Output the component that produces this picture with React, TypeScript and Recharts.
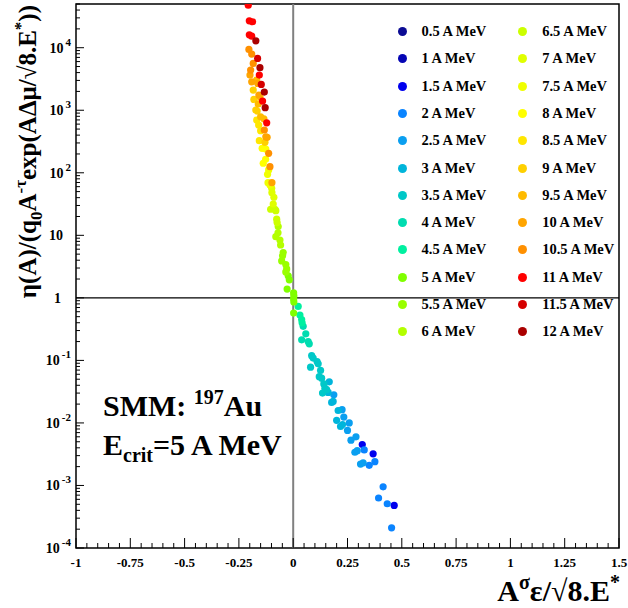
import React from 'react';
import { ScatterChart, Scatter, XAxis, YAxis, ReferenceLine, ReferenceArea } from 'recharts';

const FONT = '"Liberation Serif", "Times New Roman", serif';

// plot frame in page pixels
const LEFT = 76;
const RIGHT = 619;
const TOP = 4;
const BOTTOM = 548;

const energies = ['0.5', '1', '1.5', '2', '2.5', '3', '3.5', '4', '4.5', '5', '5.5', '6',
  '6.5', '7', '7.5', '8', '8.5', '9', '9.5', '10', '10.5', '11', '11.5', '12'];

const colors = ['#0c0c94', '#0505b4', '#0000ee', '#0a84ff', '#0a9ff0', '#00b5db', '#00c8c8', '#00dcb0',
  '#00f0a0', '#80ff00', '#99ff00', '#b3ff00', '#ccff00', '#e0ff00', '#f0ff00', '#ffff00',
  '#ffe600', '#ffd000', '#ffbb00', '#ffa500', '#ff9000', '#ff0000', '#d50000', '#aa0000'];

// [x, y] per excitation energy
const e0_5: number[][] = [];
const e1_0: number[][] = [];
const e1_5 = [[0.318, 0.0045], [0.368, 0.0032], [0.465, 0.00048]];
const e2_0 = [[0.327, 0.0037], [0.35, 0.0021], [0.376, 0.0024], [0.414, 0.00095], [0.393, 0.00063],
  [0.433, 0.00051], [0.453, 0.00021]];
const e2_5 = [[0.187, 0.0282], [0.225, 0.0163], [0.233, 0.0124], [0.258, 0.01], [0.25, 0.0076],
  [0.266, 0.0053], [0.289, 0.006], [0.284, 0.0034], [0.295, 0.0036], [0.31, 0.0022], [0.322, 0.0023]];
const e3_0 = [[0.166, 0.0455], [0.161, 0.0307], [0.177, 0.0213], [0.184, 0.0221], [0.207, 0.0158],
  [0.2, 0.011], [0.218, 0.0088], [0.227, 0.0094]];
const e3_5 = [[0.085, 0.119], [0.092, 0.109], [0.11, 0.096], [0.115, 0.088], [0.08, 0.078], [0.126, 0.069],
  [0.12, 0.055], [0.131, 0.052], [0.141, 0.042], [0.146, 0.036], [0.154, 0.034], [0.135, 0.03]];
const e4_0 = [[0.046, 0.35], [0.039, 0.213], [0.058, 0.266], [0.069, 0.2], [0.074, 0.184]];
const e4_5 = [[0.023, 0.73], [0.031, 0.53], [0.039, 0.45], [0.041, 0.4]];
const e5_0 = [[-0.023, 2.25], [-0.018, 1.94], [-0.028, 1.38], [0.002, 1.2], [0.003, 1.08], [0.002, 0.96],
  [0.003, 0.86], [0.002, 0.57]];
const e5_5 = [[-0.046, 5.3], [-0.049, 4.7], [-0.053, 3.9], [-0.034, 3.4], [-0.03, 2.9], [-0.034, 2.6]];
const e6_0 = [[-0.069, 13.8], [-0.07, 11], [-0.08, 9.5], [-0.061, 8.4], [-0.058, 7]];
const e6_5 = [[-0.104, 26.1], [-0.084, 26.1], [-0.08, 24.8], [-0.076, 18.1], [-0.074, 16]];
const e7_0 = [[-0.099, 56.5], [-0.098, 48.1], [-0.089, 40.6], [-0.092, 31.7]];
const e7_5 = [[-0.113, 111], [-0.118, 94.6], [-0.116, 69.5], [-0.107, 63.8]];
const e8_0 = [[-0.143, 246], [-0.126, 240], [-0.127, 164], [-0.138, 142]];
const e8_5 = [[-0.168, 697], [-0.159, 580], [-0.15, 470], [-0.156, 326]];
const e9_0 = [[-0.184, 2100], [-0.181, 1490], [-0.172, 1010], [-0.166, 971], [-0.13, 307]];
const e9_5 = [[-0.168, 3040], [-0.153, 1640], [-0.161, 1260], [-0.15, 787], [-0.135, 731]];
const e10_0 = [[-0.199, 3650], [-0.191, 2850], [-0.164, 2690], [-0.158, 1750], [-0.126, 377],
  [-0.12, 369], [-0.098, 69.5]];
const e10_5 = [[-0.204, 9400], [-0.191, 7900], [-0.184, 5610], [-0.196, 4390], [-0.133, 483],
  [-0.113, 205], [-0.107, 125]];
const e11_0 = [[-0.207, 47900], [-0.202, 26900], [-0.187, 26000], [-0.202, 16100], [-0.191, 15300],
  [-0.156, 3650], [-0.141, 1400], [-0.122, 630]];
const e11_5 = [[-0.164, 6750], [-0.147, 2590]];
const e12_0 = [[-0.172, 12900], [-0.153, 4800], [-0.133, 1950], [-0.129, 1100]];

const seriesPoints = [e0_5, e1_0, e1_5, e2_0, e2_5, e3_0, e3_5, e4_0, e4_5, e5_0, e5_5, e6_0,
  e6_5, e7_0, e7_5, e8_0, e8_5, e9_0, e9_5, e10_0, e10_5, e11_0, e11_5, e12_0];

const xMajorTicks = [-1, -0.75, -0.5, -0.25, 0, 0.25, 0.5, 0.75, 1, 1.25, 1.5];
const yMajorTicks = [1e-4, 1e-3, 1e-2, 1e-1, 1, 10, 1e2, 1e3, 1e4];

const xTicks: number[] = [];
for (let i = 0; i <= 50; i++) xTicks.push(Math.round((-1 + i * 0.05) * 100) / 100);
const yTicks: number[] = [];
for (let n = -4; n <= 4; n++) {
  for (let k = 1; k <= 9; k++) {
    const v = k * Math.pow(10, n);
    if (v <= 5e4) yTicks.push(v);
  }
}

const isMajorX = (v: number) => xMajorTicks.some((m) => Math.abs(m - v) < 1e-6);
const isMajorY = (v: number) => yMajorTicks.some((m) => Math.abs(m - v) / m < 1e-6);

function XTick(props: any) {
  const { x, payload } = props;
  const major = isMajorX(payload.value);
  return (
    <g>
      <line x1={x} x2={x} y1={BOTTOM} y2={BOTTOM - (major ? 10 : 5)} stroke="#000" strokeWidth={1} />
      {major && (
        <text x={x} y={BOTTOM + 19} textAnchor="middle" fontFamily={FONT} fontWeight="bold" fontSize={13} fill="#000">
          {String(payload.value)}
        </text>
      )}
    </g>
  );
}

function YTick(props: any) {
  const { y, payload } = props;
  const v = payload.value;
  const major = isMajorY(v);
  const exp = Math.round(Math.log10(v));
  return (
    <g>
      <line x1={LEFT} x2={LEFT + (major ? 8 : 4)} y1={y} y2={y} stroke="#000" strokeWidth={1} />
      {major && exp === 0 && (
        <text x={61} y={y + 5} textAnchor="end" fontFamily={FONT} fontWeight="bold" fontSize={14}>1</text>
      )}
      {major && exp === 1 && (
        <text x={63} y={y + 5} textAnchor="end" fontFamily={FONT} fontWeight="bold" fontSize={14}>10</text>
      )}
      {major && exp !== 0 && exp !== 1 && (
        <text x={71} y={y + 5} textAnchor="end" fontFamily={FONT} fontWeight="bold" fontSize={14}>
          10
          <tspan dx={2} dy={-7} fontSize={11}>{exp < 0 ? `-${-exp}` : String(exp)}</tspan>
        </text>
      )}
    </g>
  );
}

function LegendBox() {
  const rowTop = 31.7;
  const rowStep = 27.27;
  return (
    <div style={{ position: 'absolute', left: 0, top: 0, width: 628, height: 608, pointerEvents: 'none' }}>
      {energies.map((e, i) => {
        const col = i < 12 ? 0 : 1;
        const row = i % 12;
        const cy = rowTop + row * rowStep;
        const dotX = col === 0 ? 402 : 522.7;
        return (
          <div key={e} style={{ position: 'absolute', left: dotX - 4.5, top: cy - 8, height: 16, display: 'flex', alignItems: 'center' }}>
            <span style={{ width: 9, height: 9, borderRadius: '50%', background: colors[i], display: 'inline-block' }} />
            <span style={{ marginLeft: 15, fontFamily: FONT, fontWeight: 'bold', fontSize: 14.5, color: '#000', whiteSpace: 'nowrap' }}>
              {e} A MeV
            </span>
          </div>
        );
      })}
    </div>
  );
}

function Labels() {
  return (
    <svg width={628} height={608} style={{ position: 'absolute', left: 0, top: 0, pointerEvents: 'none' }}>
      <text transform="rotate(-90)" x={-5} y={36} textAnchor="end" fontFamily={FONT} fontWeight="bold" fontSize={25} fill="#000">
        η(A)/(q<tspan dy={6} fontSize={17}>0</tspan>
        <tspan dy={-6}>A</tspan>
        <tspan dy={-10} fontSize={17}>-τ</tspan>
        <tspan dy={10}>exp(AΔμ/√8.E</tspan>
        <tspan dy={-10} fontSize={17}>*</tspan>
        <tspan dy={10}>))</tspan>
      </text>
      <text x={620} y={601} textAnchor="end" fontFamily={FONT} fontWeight="bold" fontSize={30} fill="#000">
        A<tspan dy={-12} fontSize={20}>σ</tspan>
        <tspan dy={12}>ε/√8.E</tspan>
        <tspan dy={-12} fontSize={20}>*</tspan>
      </text>
      <text x={103} y={416} fontFamily={FONT} fontWeight="bold" fontSize={30} fill="#000">
        SMM: <tspan dy={-12} fontSize={20}>197</tspan>
        <tspan dy={12}>Au</tspan>
      </text>
      <text x={103} y={455} fontFamily={FONT} fontWeight="bold" fontSize={30} fill="#000">
        E<tspan dy={7} fontSize={20}>crit</tspan>
        <tspan dy={-7}>=5 A MeV</tspan>
      </text>
    </svg>
  );
}

export default function App() {
  return (
    <div style={{ position: 'absolute', left: 0, top: 0, width: 628, height: 608, background: '#fff' }}>
      <ScatterChart width={628} height={608} margin={{ top: TOP, right: 628 - RIGHT, bottom: 0, left: 0 }}>
        <XAxis
          type="number"
          dataKey="x"
          domain={[-1, 1.5]}
          ticks={xTicks}
          interval={0}
          allowDataOverflow
          height={608 - BOTTOM}
          axisLine={false}
          tickLine={false}
          tick={<XTick />}
        />
        <YAxis
          type="number"
          dataKey="y"
          scale="log"
          domain={[1e-4, 5e4]}
          ticks={yTicks}
          interval={0}
          allowDataOverflow
          width={LEFT}
          axisLine={false}
          tickLine={false}
          tick={<YTick />}
        />
        <ReferenceArea x1={-1} x2={1.5} y1={1e-4} y2={5e4} fill="none" fillOpacity={0} stroke="#000" strokeWidth={1.5} />
        <ReferenceLine x={0} stroke="#808080" strokeWidth={2} />
        <ReferenceLine y={1} stroke="#000" strokeWidth={1.2} />
        {seriesPoints.map((pts, i) => (
          <Scatter
            key={energies[i]}
            name={`${energies[i]} A MeV`}
            data={pts.map(([x, y]) => ({ x, y }))}
            fill={colors[i]}
            isAnimationActive={false}
            shape={(p: any) => <circle cx={p.cx} cy={p.cy} r={3.6} fill={colors[i]} />}
          />
        ))}
      </ScatterChart>
      <LegendBox />
      <Labels />
    </div>
  );
}
